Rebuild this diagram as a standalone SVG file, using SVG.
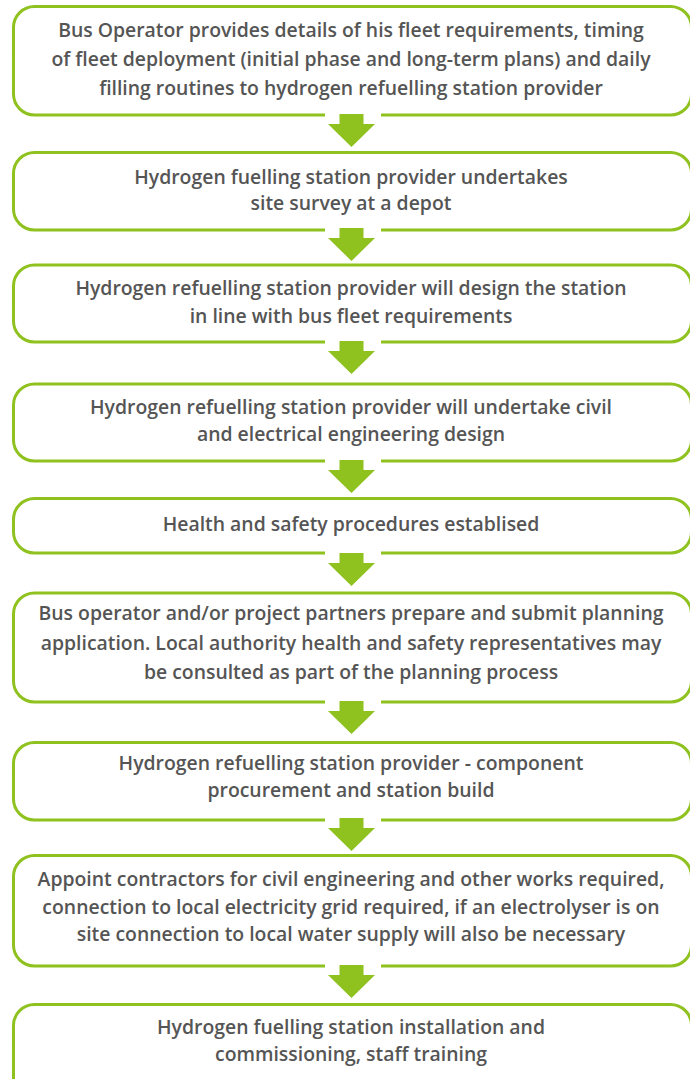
<svg xmlns="http://www.w3.org/2000/svg" width="690" height="1079" viewBox="0 0 690 1079">
<defs>
<style>
.box{fill:#fff;stroke:#8fc11f;stroke-width:3}
.t{font-family:"Open Sans",Lato,"Liberation Sans",sans-serif;font-size:19.4px;fill:#555;text-anchor:middle;font-weight:600}
.gap{fill:#fff}
.arr{fill:#8fc11f}
</style>
<path id="arrow" d="M-12,0 H12 V10 H23.5 L0,33 L-23.5,10 H-12 Z"/>
</defs>
<rect width="690" height="1079" fill="#fff"/>
<g id="n1"><rect class="box" x="13.5" y="6.5" width="678" height="108.5" rx="21"/>
<text class="t" x="351" y="37">Bus Operator provides details of his fleet requirements, timing</text>
<text class="t" x="351" y="66">of fleet deployment (initial phase and long-term plans) and daily</text>
<text class="t" x="351" y="95">filling routines to hydrogen refuelling station provider</text></g>
<g id="n2"><rect class="box" x="13.5" y="152.5" width="678" height="77.5" rx="21"/>
<text class="t" x="351" y="184">Hydrogen fuelling station provider undertakes</text>
<text class="t" x="351" y="210">site survey at a depot</text></g>
<g id="n3"><rect class="box" x="13.5" y="265" width="678" height="77" rx="21"/>
<text class="t" x="351" y="295">Hydrogen refuelling station provider will design the station</text>
<text class="t" x="351" y="323">in line with bus fleet requirements</text></g>
<g id="n4"><rect class="box" x="13.5" y="384" width="678" height="77" rx="21"/>
<text class="t" x="351" y="414">Hydrogen refuelling station provider will undertake civil</text>
<text class="t" x="351" y="441">and electrical engineering design</text></g>
<g id="n5"><rect class="box" x="13.5" y="498.5" width="678" height="54.5" rx="21"/>
<text class="t" x="351" y="531">Health and safety procedures establised</text></g>
<g id="n6"><rect class="box" x="13.5" y="593" width="678" height="109" rx="21"/>
<text class="t" x="351" y="620">Bus operator and/or project partners prepare and submit planning</text>
<text class="t" x="351" y="650">application. Local authority health and safety representatives may</text>
<text class="t" x="351" y="679">be consulted as part of the planning process</text></g>
<g id="n7"><rect class="box" x="13.5" y="742.5" width="678" height="77.5" rx="21"/>
<text class="t" x="351" y="770">Hydrogen refuelling station provider - component</text>
<text class="t" x="351" y="797">procurement and station build</text></g>
<g id="n8"><rect class="box" x="13.5" y="855.5" width="678" height="110.5" rx="21"/>
<text class="t" x="351" y="886">Appoint contractors for civil engineering and other works required,</text>
<text class="t" x="351" y="914">connection to local electricity grid required, if an electrolyser is on</text>
<text class="t" x="351" y="941">site connection to local water supply will also be necessary</text></g>
<g id="n9"><rect class="box" x="13.5" y="1004.5" width="678" height="100" rx="21"/>
<text class="t" x="351" y="1034">Hydrogen fuelling station installation and</text>
<text class="t" x="351" y="1061">commissioning, staff training</text></g>
<g id="connectors">
<rect class="gap" x="325" y="112" width="56" height="6"/><use href="#arrow" class="arr" x="351.5" y="114"/>
<rect class="gap" x="325" y="227" width="56" height="6"/><use href="#arrow" class="arr" x="351.5" y="228"/>
<rect class="gap" x="325" y="339" width="56" height="6"/><use href="#arrow" class="arr" x="351.5" y="341"/>
<rect class="gap" x="325" y="458" width="56" height="6"/><use href="#arrow" class="arr" x="351.5" y="460"/>
<rect class="gap" x="325" y="550" width="56" height="6"/><use href="#arrow" class="arr" x="351.5" y="553"/>
<rect class="gap" x="325" y="699" width="56" height="6"/><use href="#arrow" class="arr" x="351.5" y="701"/>
<rect class="gap" x="325" y="817" width="56" height="6"/><use href="#arrow" class="arr" x="351.5" y="818"/>
<rect class="gap" x="325" y="963" width="56" height="6"/><use href="#arrow" class="arr" x="351.5" y="965"/>
</g>
</svg>
